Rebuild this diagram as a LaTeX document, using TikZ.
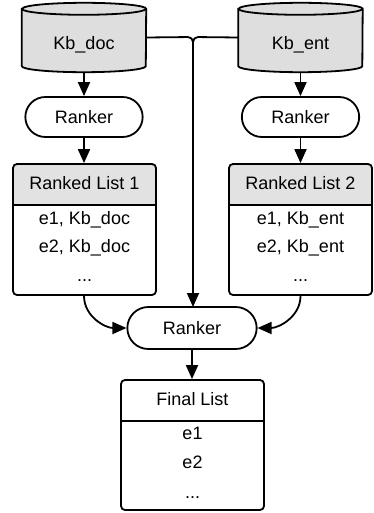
\documentclass[tikz,border=0pt]{standalone}
\usepackage{fontspec}
\setmainfont{Liberation Sans}
\usetikzlibrary{shapes.misc,arrows.meta,calc}
\definecolor{cylfill}{RGB}{222,222,222}
\definecolor{hdrfill}{RGB}{226,226,226}
\tikzset{
  lw/.style={line width=1.8pt},
  arr/.style={lw,-{Triangle[length=14pt,width=12pt]}},
  txt/.style={font=\fontsize{18}{21}\selectfont, inner sep=0pt, anchor=base},
  ranker/.style={rounded rectangle, draw, lw, fill=white, font=\fontsize{18}{21}\selectfont, text depth=0pt},
  listbox/.style={draw, lw, rounded corners=4pt, fill=white, minimum width=143pt, minimum height=131pt,
    path picture={
      \fill[#1] (path picture bounding box.north west) rectangle ([yshift=-41pt]path picture bounding box.north east);
      \draw[line width=1.5pt] ([yshift=-41pt]path picture bounding box.north west) -- ([yshift=-41pt]path picture bounding box.north east);
    }},
  listbox/.default=hdrfill,
  cylbox/.style={minimum width=124pt, minimum height=69pt, inner sep=0pt},
  cyl/.style={lw, fill=cylfill}
}
\begin{document}
\begin{tikzpicture}[x=1pt,y=-1pt]
\useasboundingbox[fill=white] (0,0) rectangle (374,513);

% cylinders
\node[cylbox] (kbdoc) at (84,37.5) {};
\node[cylbox] (kbent) at (300.5,37.5) {};
\foreach \c in {kbdoc,kbent}{
  \path[cyl,draw] ($(\c.north west)+(0,6)$) -- ($(\c.south west)+(0,-6)$)
    arc[start angle=180,end angle=360,x radius=62pt,y radius=6pt]
    -- ($(\c.north east)+(0,6)$)
    arc[start angle=0,end angle=180,x radius=62pt,y radius=6pt] -- cycle;
  \draw[lw] ($(\c.north west)+(0,6)$) arc[start angle=180,end angle=360,x radius=62pt,y radius=6pt];
}
\node[txt] (kbdoct) at (84,50) {Kb\_doc};
\node[txt] (kbentt) at (300.5,50) {Kb\_ent};

% rankers
\node[ranker, minimum width=124pt, minimum height=40pt] (r1) at (84,117) {Ranker};
\node[ranker, minimum width=124pt, minimum height=40pt] (r2) at (300.5,117) {Ranker};
\node[ranker, minimum width=136pt, minimum height=42pt] (r3) at (192,328) {Ranker};

% lists
\node[listbox] (l1) at (84.5,229.5) {};
\node[listbox] (l2) at (300.5,229.5) {};
\node[listbox=white, minimum height=130pt] (fl) at (192.5,445) {};

\node[txt] (l1h) at (84.5,189) {Ranked List 1};
\node[txt] (l1a) at (84.5,224) {e1, Kb\_doc};
\node[txt] (l1b) at (84.5,252.5) {e2, Kb\_doc};
\node[txt] (l1c) at (84.5,281) {...};

\node[txt] (l2h) at (300.5,189) {Ranked List 2};
\node[txt] (l2a) at (300.5,224) {e1, Kb\_ent};
\node[txt] (l2b) at (300.5,252.5) {e2, Kb\_ent};
\node[txt] (l2c) at (300.5,281) {...};

\node[txt] (flh) at (192.5,405) {Final List};
\node[txt] (fla) at (192.5,439) {e1};
\node[txt] (flb) at (192.5,468) {e2};
\node[txt] (flc) at (192.5,498) {...};

% connectors
\draw[arr] (kbdoc.south) -- (r1.north);
\draw[arr] (kbent.south) -- (r2.north);
\draw[arr] (r1.south) -- (l1.north -| r1.south);
\draw[arr] (r2.south) -- (l2.north -| r2.south);
\coordinate (j) at (193,37);
\draw[arr, rounded corners=5pt] (kbdoc.east) -- (j) -- (193,307);
\draw[lw, rounded corners=5pt] (kbent.west) -- (j) -- (193,60);
\draw[arr] (l1.south -| r1.south) to[out=-90,in=180] (r3.west);
\draw[arr] (l2.south) to[out=-90,in=0] (r3.east);
\draw[arr] (r3.south) -- (fl.north -| r3.south);
\end{tikzpicture}
\end{document}
